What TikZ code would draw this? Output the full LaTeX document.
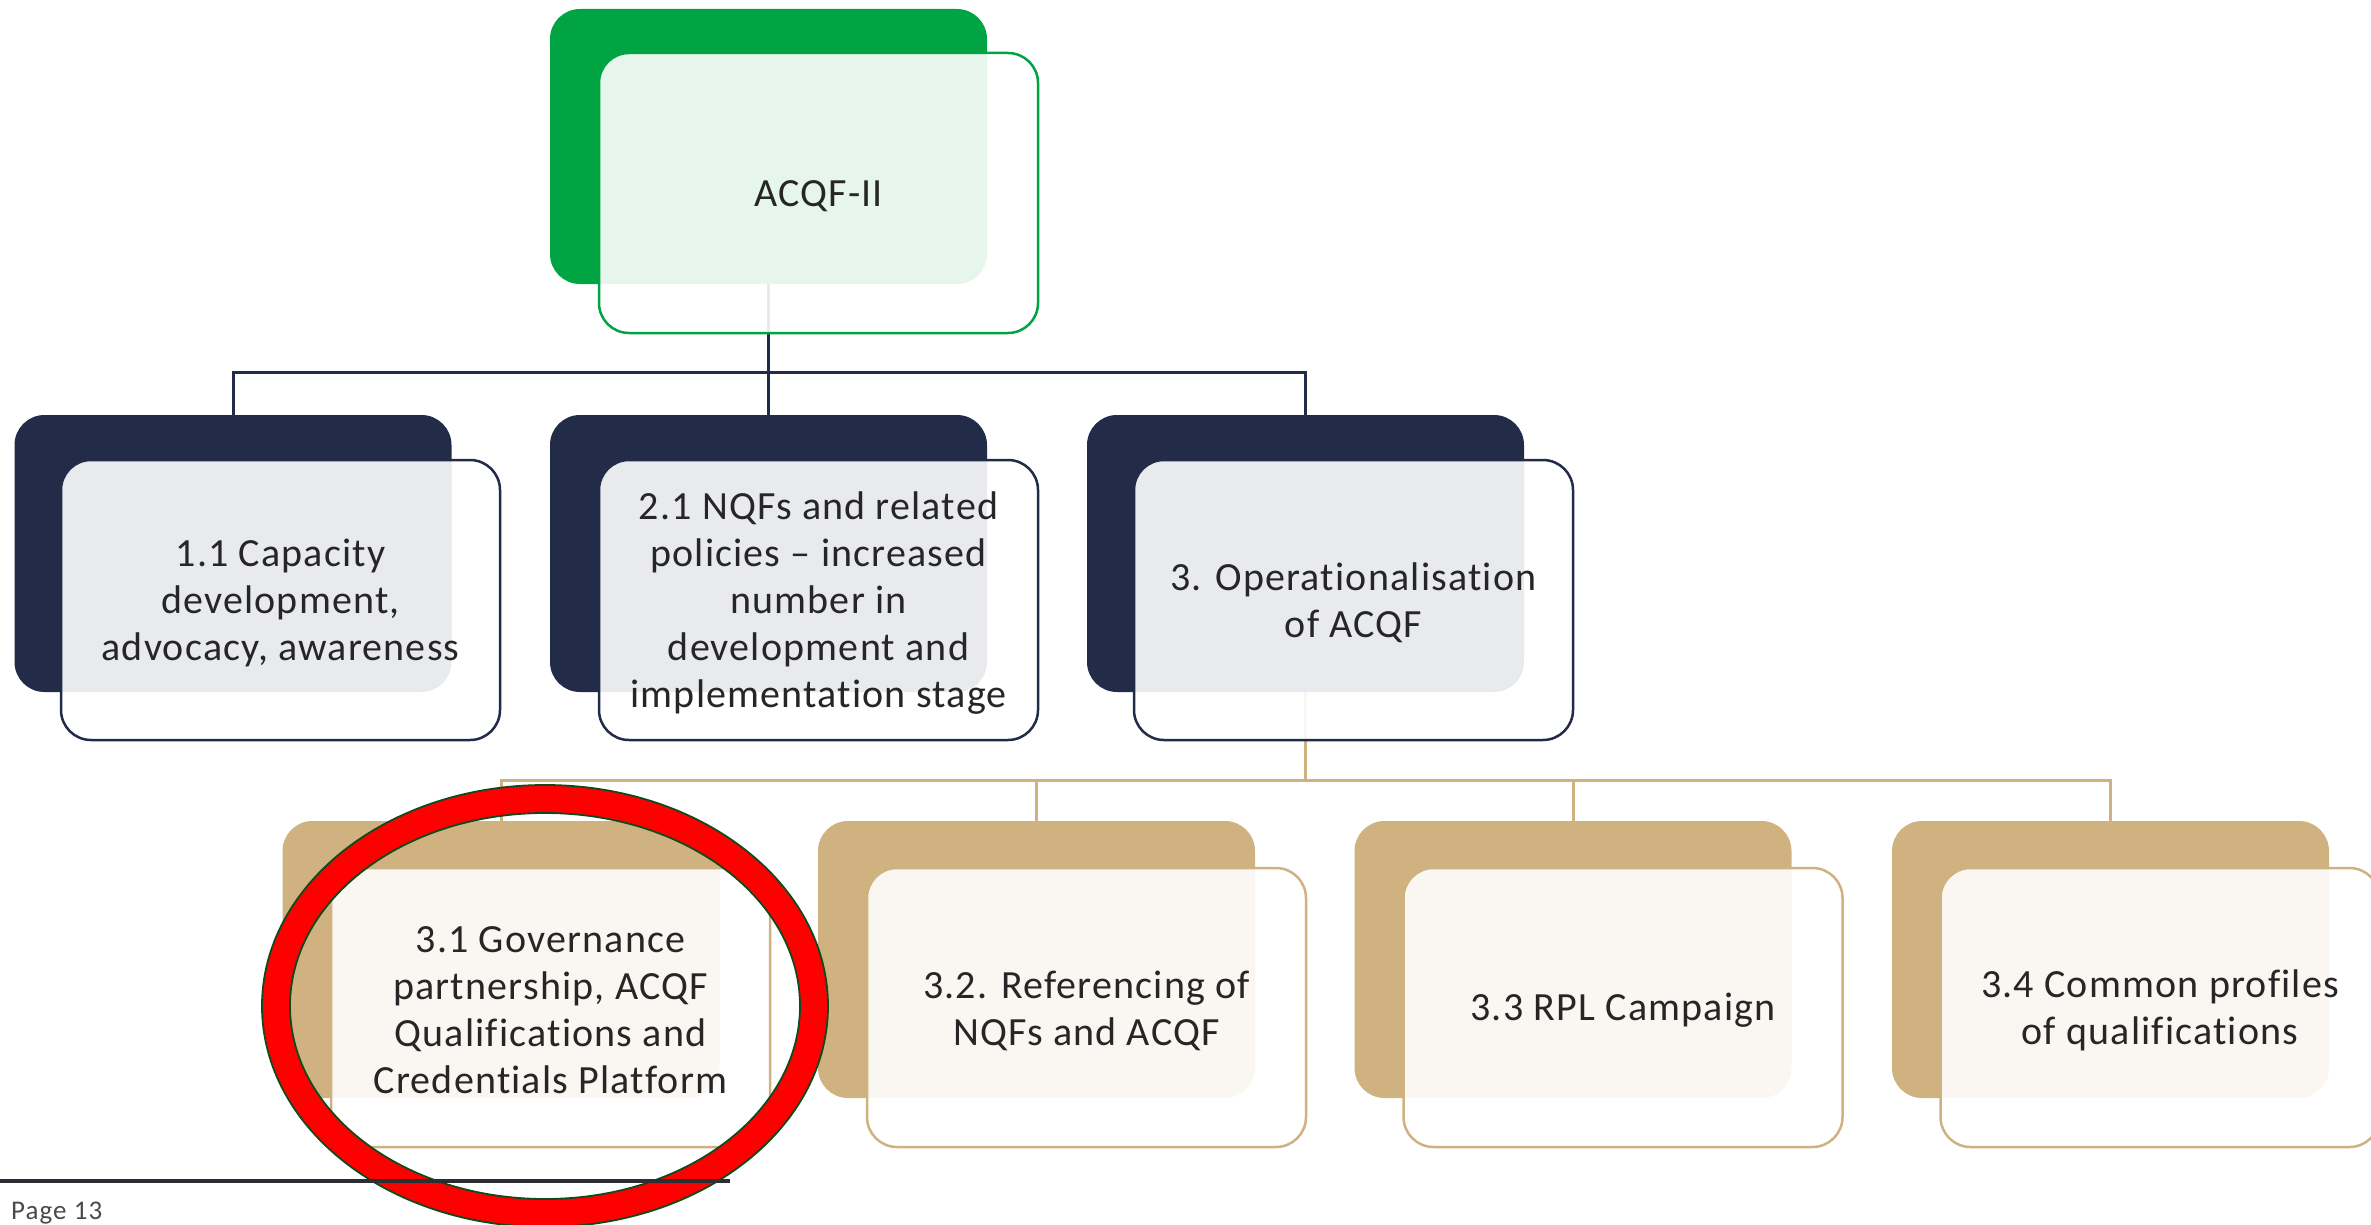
\documentclass[tikz,border=0pt]{standalone}
\usepackage{fontspec}
\setmainfont{Carlito}[LetterSpace=3, Ligatures={NoCommon}]
\newfontfamily\pagefont{Carlito}[LetterSpace=4, Ligatures={NoCommon}]
\definecolor{grn}{HTML}{00A443}
\definecolor{navy}{HTML}{222B48}
\definecolor{tanc}{HTML}{CFB27F}
\definecolor{txt}{HTML}{262626}
\definecolor{ringedge}{HTML}{0E4A1C}
\definecolor{rulec}{HTML}{2B2F33}
\definecolor{pagec}{HTML}{4A4A4A}
\begin{document}
\begin{tikzpicture}[x=1pt,y=-1pt,
  backbox/.style={rectangle, rounded corners=30pt, draw=none, minimum width=437pt, minimum height=277pt, inner sep=0pt, outer sep=0pt},
  frontbox/.style={rectangle, rounded corners=30pt, fill=white, fill opacity=0.9, line width=2.5pt, minimum width=439pt, minimum height=280pt, inner sep=0pt, outer sep=0pt},
  lbl/.style={inner sep=0pt, text=txt, font=\fontsize{40}{47}\selectfont, align=center},
  conn/.style={line width=3pt}]
\useasboundingbox (0,0) rectangle (2371,1225);
\clip (0,0) rectangle (2371,1225);
% named helper coordinates
\coordinate (h1) at (0,372);
\coordinate (h2) at (0,780);
% back boxes
\node[backbox, fill=grn, minimum height=275pt] (b0) at (768.5,146.5) {};
\node[backbox, fill=navy] (b1) at (233,553.5) {};
\node[backbox, fill=navy] (b2) at (768.5,553.5) {};
\node[backbox, fill=navy] (b3) at (1305.5,553.5) {};
\node[backbox, fill=tanc] (c1) at (501,959.5) {};
\node[backbox, fill=tanc] (c2) at (1036.5,959.5) {};
\node[backbox, fill=tanc] (c3) at (1573,959.5) {};
\node[backbox, fill=tanc] (c4) at (2110.5,959.5) {};
% connectors
\draw[conn, navy] (b0.south) -- (b0.south |- h1) -| (b1.north);
\draw[conn, navy] (b0.south) -- (b2.north);
\draw[conn, navy] (b0.south |- h1) -| (b3.north);
\draw[conn, tanc] (b3.south) -- (b3.south |- h2) -| (c1.north);
\draw[conn, tanc] (b3.south |- h2) -| (c2.north);
\draw[conn, tanc] (b3.south |- h2) -| (c3.north);
\draw[conn, tanc] (b3.south |- h2) -| (c4.north);
% front boxes
\node[frontbox, draw=grn] (f0) at (818.5,193) {};
\node[frontbox, draw=navy] (f1) at (280.5,600) {};
\node[frontbox, draw=navy] (f2) at (818.5,600) {};
\node[frontbox, draw=navy] (f3) at (1353.5,600) {};
\node[frontbox, draw=tanc, minimum height=279pt] (g1) at (550.5,1007.5) {};
\node[frontbox, draw=tanc, minimum height=279pt] (g2) at (1086.5,1007.5) {};
\node[frontbox, draw=tanc, minimum height=279pt] (g3) at (1623,1007.5) {};
\node[frontbox, draw=tanc, minimum height=279pt] (g4) at (2160,1007.5) {};
% labels
\node[lbl] (t0) at ([yshift=-3pt]f0.center) {ACQF-II};
\node[lbl] (t1) at ([yshift=-3pt]f1.center) {1.1 Capacity\\development,\\advocacy, awareness};
\node[lbl] (t2) at ([yshift=-3pt]f2.center) {2.1 NQFs and related\\policies – increased\\number in\\development and\\implementation stage};
\node[lbl] (t3) at ([yshift=-3pt]f3.center) {3. Operationalisation\\of ACQF};
\node[lbl] (u1) at ([yshift=-3pt]g1.center) {3.1 Governance\\partnership, ACQF\\Qualifications and\\Credentials Platform};
\node[lbl] (u2) at ([yshift=-3pt]g2.center) {3.2. Referencing of\\NQFs and ACQF};
\node[lbl] (u3) at ([yshift=-3pt]g3.center) {3.3 RPL Campaign};
\node[lbl] (u4) at ([yshift=-3pt]g4.center) {3.4 Common profiles\\of qualifications};
% red ring
\coordinate (rc) at (545,1006);
\fill[red, even odd rule] (rc) ellipse [x radius=283pt, y radius=221pt] (rc) ellipse [x radius=255pt, y radius=193pt];
\draw[ringedge, line width=1.8pt] (rc) ellipse [x radius=283pt, y radius=221pt];
\draw[ringedge, line width=1.8pt] (rc) ellipse [x radius=255pt, y radius=193pt];
% footer rule and page label
\coordinate (la) at (0,1181);
\coordinate (lb) at (730,1181);
\draw[rulec, line width=4pt] (la) -- (lb);
\node[anchor=base west, inner sep=0pt, text=pagec, font=\pagefont\fontsize{27}{30}\selectfont] (pg) at (11,1219) {Page 13};
\end{tikzpicture}
\end{document}
